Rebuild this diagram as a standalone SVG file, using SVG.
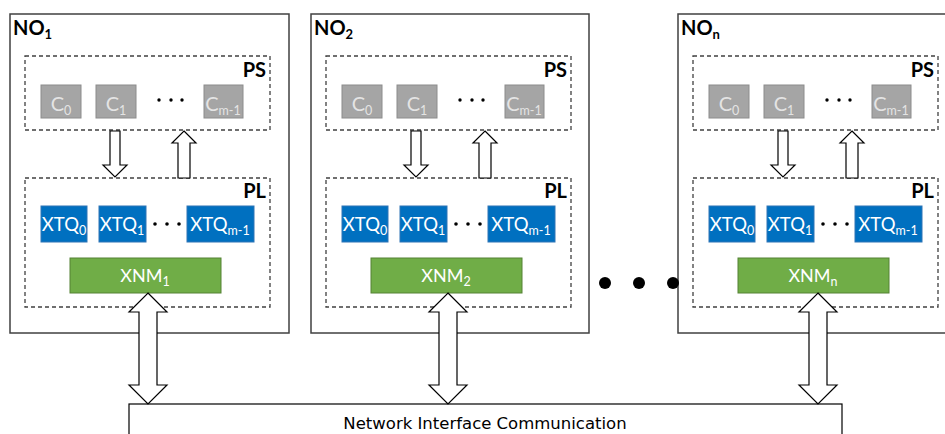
<svg xmlns="http://www.w3.org/2000/svg" width="945" height="434" viewBox="0 0 945 434">
  <style>
    .outer { fill: #ffffff; stroke: #404040; stroke-width: 1.5; }
    .dash { fill: none; stroke: #404040; stroke-width: 1.3; stroke-dasharray: 4 3; }
    .core { fill: #a5a5a5; stroke: #8c8c8c; stroke-width: 1; }
    .xtq { fill: #0070c0; stroke: #2e75b6; stroke-width: 1; }
    .xnm { fill: #70ad47; stroke: #548235; stroke-width: 1; }
    .lbl { font-family: Lato, "Liberation Sans", sans-serif; font-weight: bold; font-size: 20px; fill: #000000; }
    .lbl .sub { font-size: 13px; }
    .ctxt { font-family: Lato, "Liberation Sans", sans-serif; font-size: 20px; fill: #e4e4e4; text-anchor: middle; }
    .wtxt { font-family: Lato, "Liberation Sans", sans-serif; font-size: 18.5px; fill: #ffffff; text-anchor: middle; }
    .xnmtxt { font-size: 18px; }
    .ntxt { font-family: "DejaVu Sans", sans-serif; font-size: 16.5px; fill: #000000; text-anchor: middle; }
    .sub { font-size: 12.5px; }
    .dot { fill: #000000; }
    .arrow { fill: #ffffff; stroke: #000000; stroke-width: 1.2; stroke-linejoin: miter; }
  </style>
  <defs>
    <!-- inner content shared by every processing node: PS and PL regions -->
    <g id="ps-region">
      <rect class="dash" x="25" y="56" width="245" height="74"/>
      <text class="lbl" x="266" y="77" text-anchor="end">PS</text>
      <rect class="core" x="41" y="85" width="40" height="33"/>
      <text class="ctxt" x="61" y="111">C<tspan class="sub" dy="4">0</tspan></text>
      <rect class="core" x="96" y="85" width="40" height="33"/>
      <text class="ctxt" x="116" y="111">C<tspan class="sub" dy="4">1</tspan></text>
      <circle class="dot" cx="159" cy="100" r="1.7"/>
      <circle class="dot" cx="171" cy="100" r="1.7"/>
      <circle class="dot" cx="182" cy="100" r="1.7"/>
      <rect class="core" x="204" y="85" width="39" height="33"/>
      <text class="ctxt" x="223" y="111">C<tspan class="sub" dy="4">m-1</tspan></text>
    </g>
    <g id="pl-region">
      <rect class="dash" x="25" y="178" width="245" height="129"/>
      <text class="lbl" x="266" y="198" text-anchor="end">PL</text>
      <rect class="xtq" x="41" y="206" width="46" height="36"/>
      <text class="wtxt" x="64" y="231">XTQ<tspan class="sub" dy="4">0</tspan></text>
      <rect class="xtq" x="99" y="206" width="47" height="36"/>
      <text class="wtxt" x="122" y="231">XTQ<tspan class="sub" dy="4">1</tspan></text>
      <circle class="dot" cx="155" cy="224" r="1.8"/>
      <circle class="dot" cx="167" cy="224" r="1.8"/>
      <circle class="dot" cx="179" cy="224" r="1.8"/>
      <rect class="xtq" x="187" y="206" width="67" height="36"/>
      <text class="wtxt" x="220" y="231">XTQ<tspan class="sub" dy="4">m-1</tspan></text>
      <rect class="xnm" x="70" y="258" width="151" height="35"/>
    </g>
    <!-- hollow block arrows between PS and PL -->
    <path id="down-arrow" class="arrow" d="M110,131 H120 V165 H127 L115,177 L103,165 H110 Z"/>
    <path id="up-arrow" class="arrow" d="M184,131 L196,143 H190 V178 H178 V143 H172 Z"/>
  </defs>

  <!-- node NO1 -->
  <g id="node-1">
    <rect class="outer" x="10" y="14" width="279" height="319"/>
    <text class="lbl" x="13" y="35">NO<tspan class="sub" dy="4">1</tspan></text>
    <use href="#ps-region"/>
    <use href="#pl-region"/>
    <text class="wtxt xnmtxt" x="145" y="282">XNM<tspan class="sub" dy="4">1</tspan></text>
    <use href="#down-arrow"/>
    <use href="#up-arrow"/>
  </g>

  <!-- node NO2 -->
  <g id="node-2" transform="translate(301,0)">
    <rect class="outer" x="10" y="14" width="278" height="319"/>
    <text class="lbl" x="13" y="35">NO<tspan class="sub" dy="4">2</tspan></text>
    <use href="#ps-region"/>
    <use href="#pl-region"/>
    <text class="wtxt xnmtxt" x="145" y="282">XNM<tspan class="sub" dy="4">2</tspan></text>
    <use href="#down-arrow"/>
    <use href="#up-arrow"/>
  </g>

  <!-- node NOn -->
  <g id="node-n" transform="translate(668,0)">
    <rect class="outer" x="10" y="14" width="279" height="319"/>
    <text class="lbl" x="13" y="35">NO<tspan class="sub" dy="4">n</tspan></text>
    <use href="#ps-region"/>
    <use href="#pl-region"/>
    <text class="wtxt xnmtxt" x="145" y="282">XNM<tspan class="sub" dy="4">n</tspan></text>
    <use href="#down-arrow"/>
    <use href="#up-arrow"/>
  </g>

  <!-- ellipsis between node 2 and node n -->
  <g id="ellipsis">
    <circle class="dot" cx="605" cy="283" r="6"/>
    <circle class="dot" cx="639" cy="283" r="6"/>
    <circle class="dot" cx="673" cy="283" r="6"/>
  </g>

  <!-- shared network interface -->
  <g id="network">
    <rect fill="#ffffff" stroke="#000000" stroke-width="1.2" x="129" y="404" width="713" height="40"/>
    <text class="ntxt" x="485" y="429">Network Interface Communication</text>
  </g>

  <!-- bidirectional links from each XNM to the network interface -->
  <g id="connectors">
    <path class="arrow" d="M148,293 L167,312 H157 V385 H167 L148,404 L129,385 H139 V312 H129 Z"/>
    <path class="arrow" d="M448,293 L467,312 H457 V385 H467 L448,404 L429,385 H439 V312 H429 Z"/>
    <path class="arrow" d="M818,293 L837,312 H827 V385 H837 L818,404 L799,385 H809 V312 H799 Z"/>
  </g>
</svg>
